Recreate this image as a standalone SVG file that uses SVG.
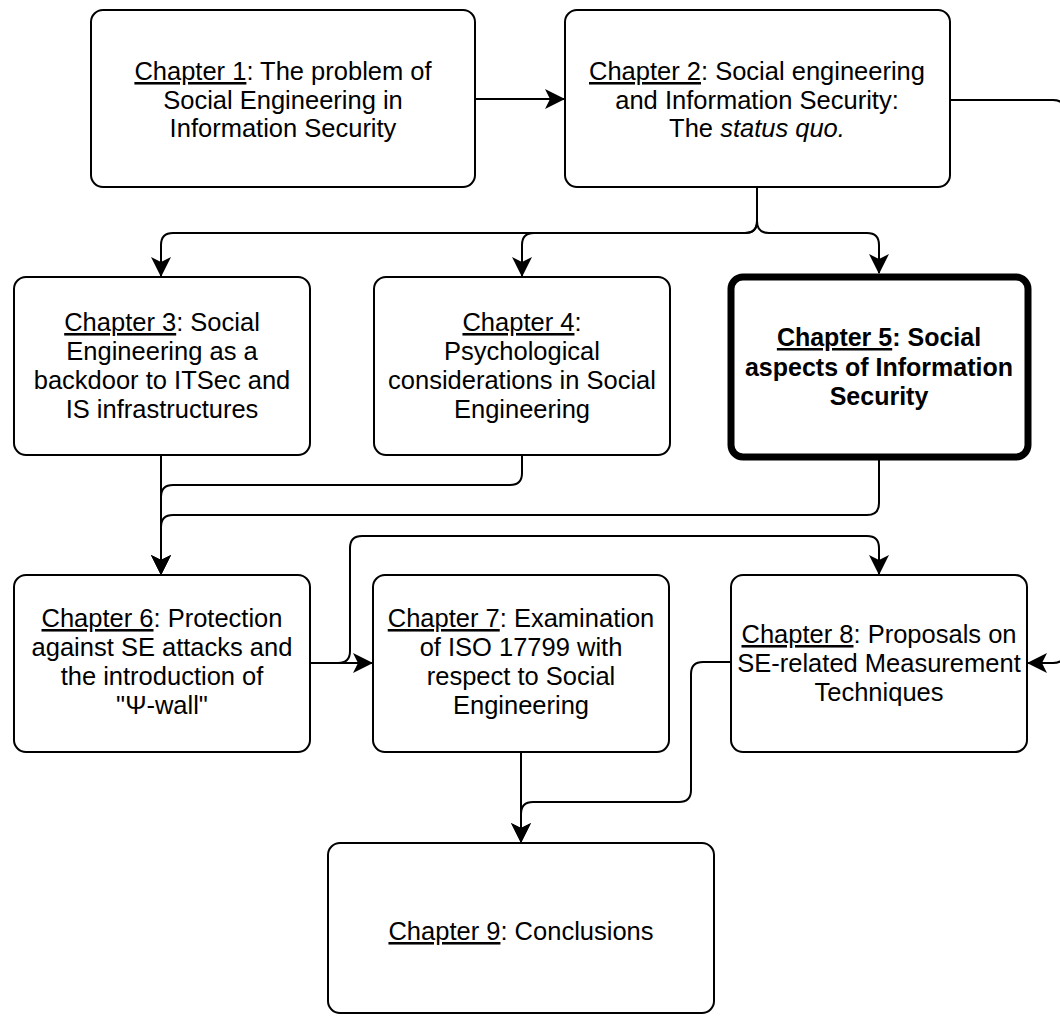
<svg xmlns="http://www.w3.org/2000/svg" width="1060" height="1016" viewBox="0 0 1060 1016">
  <style>
    .box { fill: #ffffff; stroke: #000000; stroke-width: 2; }
    .box-strong { fill: #ffffff; stroke: #000000; stroke-width: 7; }
    .label { font-family: "Liberation Sans", Arial, sans-serif; font-size: 25.5px; fill: #000000; text-anchor: middle; }
    .strong { font-weight: bold; font-size: 25px; }
    .u { text-decoration: underline; }
    .it { font-style: italic; }
    .edge { fill: none; stroke: #000000; stroke-width: 2; }
  </style>
  <defs>
    <marker id="arrow" viewBox="0 0 20 20" refX="19" refY="10" markerWidth="20" markerHeight="20" markerUnits="userSpaceOnUse" orient="auto">
      <path d="M0,0 L20,10 L0,20 L5,10 Z" fill="#000000"/>
    </marker>
  </defs>

  <rect width="1060" height="1016" fill="#ffffff"/>

  <!-- connectors -->
  <g id="connectors">
    <path class="edge" d="M475,99 H564" marker-end="url(#arrow)"/>
    <path class="edge" d="M950,100 H1053 Q1065,100 1065,112 V651 Q1065,663 1053,663 H1028" marker-end="url(#arrow)"/>
    <path class="edge" d="M757,187 V221 Q757,233 745,233 H173 Q161,233 161,245 V276" marker-end="url(#arrow)"/>
    <path class="edge" d="M757,187 V221 Q757,233 745,233 H534 Q522,233 522,245 V276" marker-end="url(#arrow)"/>
    <path class="edge" d="M757,187 V221 Q757,233 769,233 H867 Q879,233 879,245 V273" marker-end="url(#arrow)"/>
    <path class="edge" d="M161,455 V574" marker-end="url(#arrow)"/>
    <path class="edge" d="M522,455 V473 Q522,485 510,485 H173 Q161,485 161,497 V574" marker-end="url(#arrow)"/>
    <path class="edge" d="M879,460 V503 Q879,515 867,515 H173 Q161,515 161,527 V574" marker-end="url(#arrow)"/>
    <path class="edge" d="M310,663 H372" marker-end="url(#arrow)"/>
    <path class="edge" d="M310,663 H338 Q350,663 350,651 V548 Q350,536 362,536 H867 Q879,536 879,548 V574" marker-end="url(#arrow)"/>
    <path class="edge" d="M521,752 V842" marker-end="url(#arrow)"/>
    <path class="edge" d="M731,662 H703 Q691,662 691,674 V790 Q691,802 679,802 H533 Q521,802 521,814 V842" marker-end="url(#arrow)"/>
  </g>

  <g id="chapter1">
    <rect class="box" x="91" y="10" width="384" height="177" rx="12"/>
    <text class="label" x="283" y="80"><tspan class="u">Chapter 1</tspan>: The problem of</text>
    <text class="label" x="283" y="109">Social Engineering in</text>
    <text class="label" x="283" y="137">Information Security</text>
  </g>

  <g id="chapter2">
    <rect class="box" x="565" y="10" width="385" height="177" rx="12"/>
    <text class="label" x="757" y="80"><tspan class="u">Chapter 2</tspan>: Social engineering</text>
    <text class="label" x="757" y="109">and Information Security:</text>
    <text class="label" x="757" y="137">The <tspan class="it">status quo.</tspan></text>
  </g>

  <g id="chapter3">
    <rect class="box" x="14" y="277" width="296" height="178" rx="12"/>
    <text class="label" x="162" y="331"><tspan class="u">Chapter 3</tspan>: Social</text>
    <text class="label" x="162" y="360">Engineering as a</text>
    <text class="label" x="162" y="389">backdoor to ITSec and</text>
    <text class="label" x="162" y="418">IS infrastructures</text>
  </g>

  <g id="chapter4">
    <rect class="box" x="374" y="277" width="296" height="178" rx="12"/>
    <text class="label" x="522" y="331"><tspan class="u">Chapter 4</tspan>:</text>
    <text class="label" x="522" y="360">Psychological</text>
    <text class="label" x="522" y="389">considerations in Social</text>
    <text class="label" x="522" y="418">Engineering</text>
  </g>

  <g id="chapter5">
    <rect class="box-strong" x="731" y="277" width="297" height="180" rx="12"/>
    <text class="label strong" x="879" y="346"><tspan class="u">Chapter 5</tspan>: Social</text>
    <text class="label strong" x="879" y="376">aspects of Information</text>
    <text class="label strong" x="879" y="405">Security</text>
  </g>

  <g id="chapter6">
    <rect class="box" x="14" y="575" width="296" height="177" rx="12"/>
    <text class="label" x="162" y="627"><tspan class="u">Chapter 6</tspan>: Protection</text>
    <text class="label" x="162" y="656">against SE attacks and</text>
    <text class="label" x="162" y="685">the introduction of</text>
    <text class="label" x="162" y="714">"Ψ-wall"</text>
  </g>

  <g id="chapter7">
    <rect class="box" x="373" y="575" width="296" height="177" rx="12"/>
    <text class="label" x="521" y="627"><tspan class="u">Chapter 7</tspan>: Examination</text>
    <text class="label" x="521" y="656">of ISO 17799 with</text>
    <text class="label" x="521" y="685">respect to Social</text>
    <text class="label" x="521" y="714">Engineering</text>
  </g>

  <g id="chapter8">
    <rect class="box" x="731" y="575" width="296" height="177" rx="12"/>
    <text class="label" x="879" y="643"><tspan class="u">Chapter 8</tspan>: Proposals on</text>
    <text class="label" x="879" y="672">SE-related Measurement</text>
    <text class="label" x="879" y="701">Techniques</text>
  </g>

  <g id="chapter9">
    <rect class="box" x="328" y="843" width="386" height="170" rx="12"/>
    <text class="label" x="521" y="940"><tspan class="u">Chapter 9</tspan>: Conclusions</text>
  </g>
</svg>
